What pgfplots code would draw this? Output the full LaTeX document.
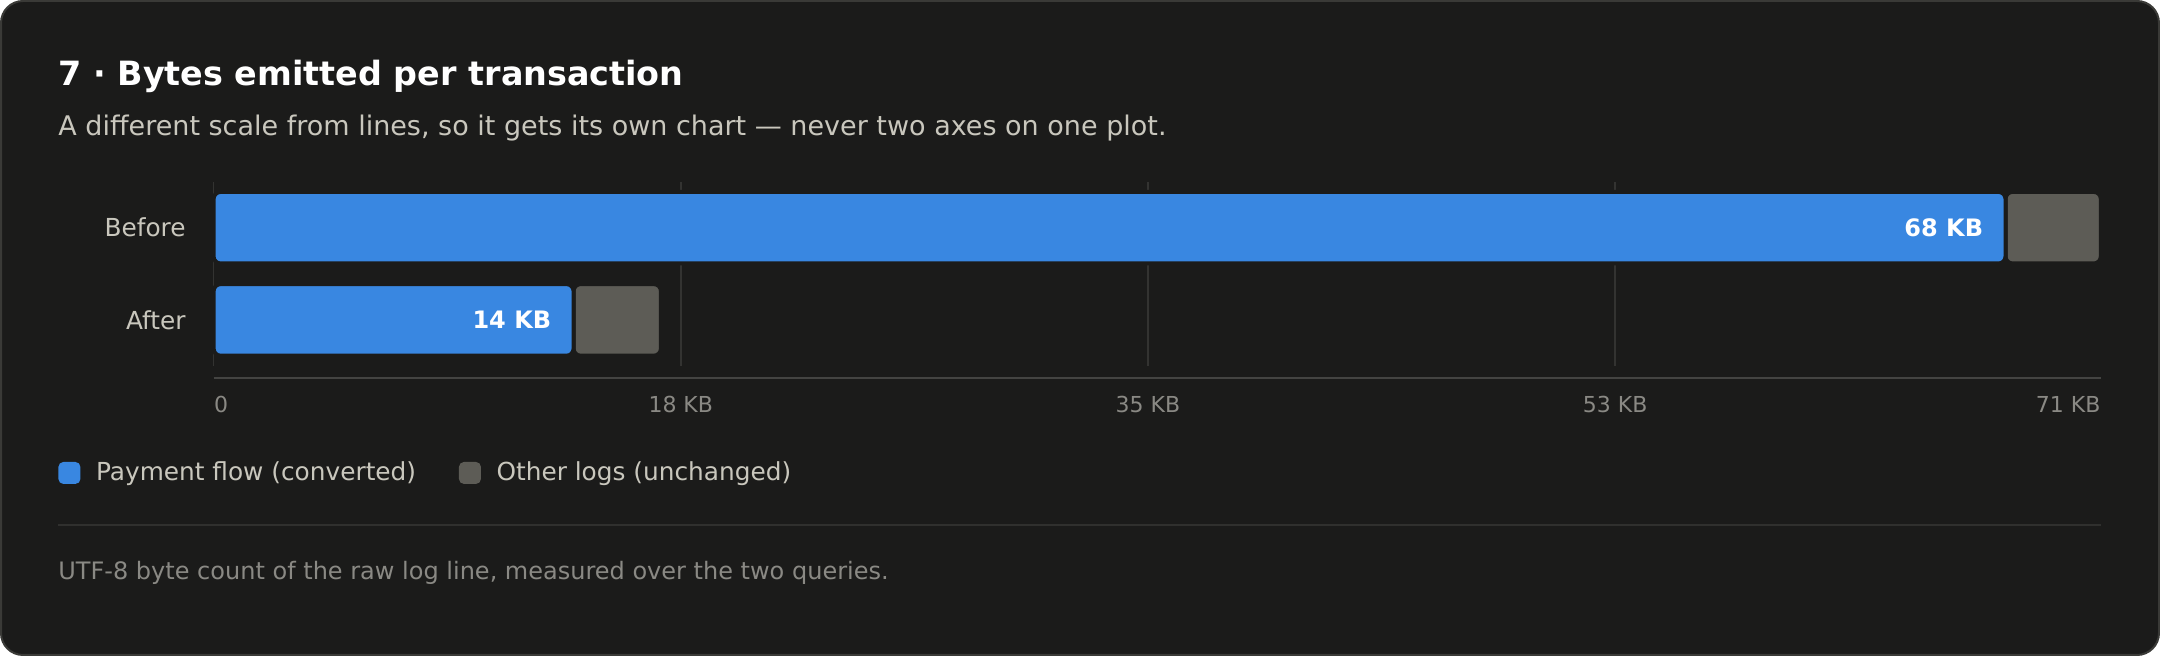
\documentclass[border=0pt]{standalone}
\usepackage{fontspec}
\setmainfont{DejaVu Sans}
\usepackage{pgfplots}
\pgfplotsset{compat=1.18}

\definecolor{cardbg}{HTML}{1B1B1A}
\definecolor{cardedge}{HTML}{3A3A37}
\definecolor{flowblue}{HTML}{3987E1}
\definecolor{othergray}{HTML}{5D5C56}
\definecolor{subtext}{HTML}{C9C7BD}
\definecolor{mutedtext}{HTML}{8A8984}
\definecolor{gridc}{HTML}{333331}
\definecolor{axisc}{HTML}{444442}
\definecolor{rulec}{HTML}{30302E}

\begin{document}
\begin{tikzpicture}
% card (top-left corner at 0,0; one unit = 1pt)
\draw[cardedge, fill=cardbg, line width=1pt, rounded corners=11pt] (0.5pt,-0.5pt) rectangle (1079.5pt,-327.5pt);
\node[anchor=base west, inner sep=0pt, text=white, font=\fontsize{16.7}{20}\selectfont\bfseries] at (29pt,-43pt) {7 · Bytes emitted per transaction};
\node[anchor=base west, inner sep=0pt, text=subtext, font=\fontsize{13.5}{16}\selectfont] at (29pt,-68pt) {A different scale from lines, so it gets its own chart — never two axes on one plot.};

\begin{axis}[
    name=ax,
    at={(106.8pt,-183pt)}, anchor=south west,
    scale only axis, width=943.6pt, height=92.2pt,
    xmin=0, xmax=71.3, ymin=-0.5, ymax=1.5,
    clip=false,
    xbar stacked, bar width=35.8pt,
    axis line style={draw=none},
    major tick length=0pt,
    xtick={0,17.65,35.3,52.95}, xticklabels={},
    xmajorgrids, grid style={gridc, line width=0.8pt},
    ytick={0,1}, yticklabels={After,Before},
    yticklabel style={text=subtext, font=\fontsize{12.4}{15}\selectfont, inner sep=0pt, xshift=-13.8pt},
    legend columns=2,
    legend style={at={(axis description cs:-0.08245,-0.580)}, anchor=west,
        draw=none, fill=none, inner sep=0pt, text=subtext,
        font=\fontsize{12.4}{15}\selectfont,
        /tikz/every even column/.append style={column sep=19.4pt}},
    legend image code/.code={
        \fill[#1, draw=none, rounded corners=2.5pt] (0pt,-5.5pt) rectangle (11pt,5.5pt);
        \path (15.8pt,0pt);},
]
    % KB per transaction: Before (y=1), After (y=0)
    \addplot[fill=flowblue, draw=cardbg, line width=2pt, rounded corners=3.5pt] coordinates {
        (67.7,1)
        (13.6,0)
    };
    \addlegendentry{Payment flow (converted)}
    \addplot[fill=othergray, draw=cardbg, line width=2pt, rounded corners=3.5pt] coordinates {
        (3.6,1)
        (3.3,0)
    };
    \addlegendentry{Other logs (unchanged)}

    \coordinate (vBefore) at (axis cs:67.7,1);
    \coordinate (vAfter) at (axis cs:13.6,0);

    \node[anchor=base west, yshift=-23.2pt, inner sep=0pt, text=mutedtext, font=\fontsize{11}{13}\selectfont] at (axis cs:0,-0.5) {0};
    \node[anchor=base, yshift=-23.2pt, inner sep=0pt, text=mutedtext, font=\fontsize{11}{13}\selectfont] at (axis cs:17.65,-0.5) {18 KB};
    \node[anchor=base, yshift=-23.2pt, inner sep=0pt, text=mutedtext, font=\fontsize{11}{13}\selectfont] at (axis cs:35.3,-0.5) {35 KB};
    \node[anchor=base, yshift=-23.2pt, inner sep=0pt, text=mutedtext, font=\fontsize{11}{13}\selectfont] at (axis cs:52.95,-0.5) {53 KB};
    \node[anchor=base east, yshift=-23.2pt, inner sep=0pt, text=mutedtext, font=\fontsize{11}{13}\selectfont] at (axis cs:71.3,-0.5) {71 KB};
\end{axis}

% value labels on top of the stacked bars
\node[anchor=east, xshift=-11pt, inner sep=0pt, text=white, font=\fontsize{12}{14}\selectfont\bfseries] at (vBefore) {68 KB};
\node[anchor=east, xshift=-11pt, inner sep=0pt, text=white, font=\fontsize{12}{14}\selectfont\bfseries] at (vAfter) {14 KB};

% baseline rule under the bars, separator and footnote
\draw[axisc, line width=1pt] (106.8pt,-189.2pt) -- (1050.4pt,-189.2pt);
\draw[rulec, line width=1pt] (29pt,-262.5pt) -- (1050.4pt,-262.5pt);
\node[anchor=base west, inner sep=0pt, text=mutedtext, font=\fontsize{12}{14}\selectfont] at (29pt,-290pt) {UTF-8 byte count of the raw log line, measured over the two queries.};
\end{tikzpicture}
\end{document}
